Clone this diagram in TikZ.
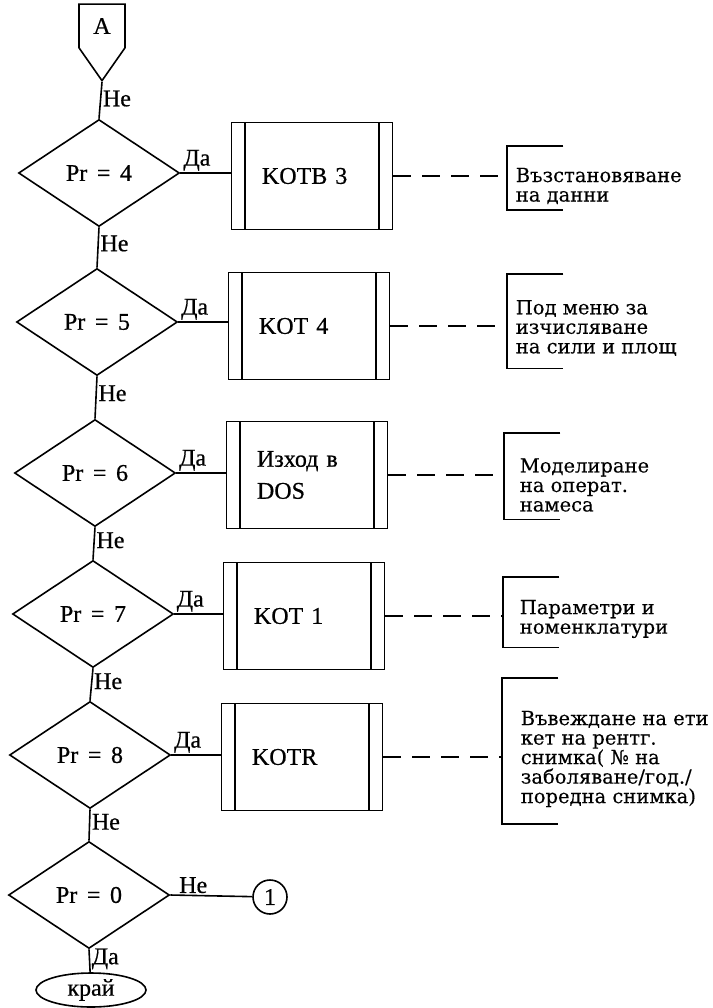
\documentclass[tikz,border=0pt]{standalone}
\usepackage{fontspec}
\setmainfont{Liberation Serif}[FakeBold=0.6]
\newfontfamily\notefont{DejaVu Serif}[FakeBold=0.3]
\usetikzlibrary{shapes.geometric,shapes.symbols}
\newcommand\prval[1]{Pr\hspace{.4em}=\hspace{.4em}#1}

\begin{document}
\begin{tikzpicture}[
    x=1pt, y=-1pt,
    font=\fontsize{24}{28}\selectfont,
    line width=1.6pt,
    cond/.style={draw, diamond, minimum width=161pt, minimum height=107pt, inner sep=0pt},
    proc/.style={draw, rectangle, minimum width=161pt, minimum height=107pt, text width=100pt, align=left,
      path picture={\draw ([xshift=13.5pt]path picture bounding box.north west) -- ([xshift=13.5pt]path picture bounding box.south west)
        ([xshift=-13.5pt]path picture bounding box.north east) -- ([xshift=-13.5pt]path picture bounding box.south east);}},
    brk/.style={minimum width=55pt, inner sep=0pt},
    note/.style={font=\notefont\fontsize{19.5}{19.5}\selectfont, align=left, inner sep=0pt, anchor=west},
    lbl/.style={font=\fontsize{24}{26}\selectfont, inner sep=1.5pt},
    dline/.style={dash pattern=on 18pt off 11pt}]
  \useasboundingbox (0,0) rectangle (712,1008);
  % entry connector
  \node[draw, signal, signal to=south, signal pointer angle=70, minimum width=46pt, minimum height=56pt, inner sep=0pt] (conA) at (102,26) {A};
  % conditions
  \node[cond] (d4) at (99,173) {\prval{4}};
  \node[cond] (d5) at (97,322) {\prval{5}};
  \node[cond] (d6) at (95,473) {\prval{6}};
  \node[cond] (d7) at (93,614) {\prval{7}};
  \node[cond] (d8) at (90,755) {\prval{8}};
  \node[cond] (d0) at (89,895) {\prval{0}};
  % subprograms
  \node[proc] (b4) at (312,176) {KOTB 3};
  \node[proc] (b5) at (309,326) {KOT 4};
  \node[proc] (b6) at (307,475) {Изход в\\[4pt]DOS};
  \node[proc] (b7) at (304,616) {KOT 1};
  \node[proc] (b8) at (302,757) {KOTR};
  % comment brackets
  \node[brk, minimum height=62pt] (k4) at (535,178) {};
  \node[brk, minimum height=93pt] (k5) at (535,321) {};
  \node[brk, minimum height=85pt] (k6) at (532,476) {};
  \node[brk, minimum height=69pt] (k7) at (531,612) {};
  \node[brk, minimum height=144pt] (k8) at (530,751) {};
  \node[note] (t4) at (515,186) {Възстановяване\\на данни};
  \node[note] (t5) at (515,328) {Под меню за\\изчисляване\\на сили и площ};
  \node[note] (t6) at (519,485) {Моделиране\\на операт.\\намеса};
  \node[note] (t7) at (519,619) {Параметри и\\номенклатури};
  \node[note] (t8) at (520,759) {Въвеждане на ети\\кет на рентг.\\снимка( № на\\заболяване/год./\\поредна снимка)};
  % exits
  \node[draw, circle, minimum size=34pt, inner sep=0pt] (c1) at (270,897) {1};
  \node[draw, ellipse, minimum width=110pt, minimum height=34pt, inner sep=0pt] (end) at (91,990) {край};

  \draw (conA.south) -- node[lbl, right, pos=0.45] {Не} (d4.north);
  \draw (d4.south) -- node[lbl, right, pos=0.4] {Не} (d5.north);
  \draw (d5.south) -- node[lbl, right, pos=0.4] {Не} (d6.north);
  \draw (d6.south) -- node[lbl, right, pos=0.4] {Не} (d7.north);
  \draw (d7.south) -- node[lbl, right, pos=0.4] {Не} (d8.north);
  \draw (d8.south) -- node[lbl, right, pos=0.4] {Не} (d0.north);
  \draw (d0.east) -- node[lbl, above, pos=0.28] {Не} (c1);
  \draw (d0.south) -- node[lbl, right, pos=0.42] {Да} (end);

  \draw (d4.east) -- node[lbl, above, pos=0.33] {Да} (d4.east -| b4.west);
  \draw (d5.east) -- node[lbl, above, pos=0.33] {Да} (d5.east -| b5.west);
  \draw (d6.east) -- node[lbl, above, pos=0.33] {Да} (d6.east -| b6.west);
  \draw (d7.east) -- node[lbl, above, pos=0.33] {Да} (d7.east -| b7.west);
  \draw (d8.east) -- node[lbl, above, pos=0.33] {Да} (d8.east -| b8.west);

  \draw[dline] (b4.east) -- (b4.east -| k4.west);
  \draw[dline] (b5.east) -- (b5.east -| k5.west);
  \draw[dline] (b6.east) -- (b6.east -| k6.west);
  \draw[dline] (b7.east) -- (b7.east -| k7.west);
  \draw[dline] (b8.east) -- (b8.east -| k8.west);
  \draw (k4.north east) -- (k4.north west) -- (k4.south west) -- (k4.south east);
  \draw (k5.north east) -- (k5.north west) -- (k5.south west) -- (k5.south east);
  \draw (k6.north east) -- (k6.north west) -- (k6.south west) -- (k6.south east);
  \draw (k7.north east) -- (k7.north west) -- (k7.south west) -- (k7.south east);
  \draw (k8.north east) -- (k8.north west) -- (k8.south west) -- (k8.south east);
\end{tikzpicture}
\end{document}
